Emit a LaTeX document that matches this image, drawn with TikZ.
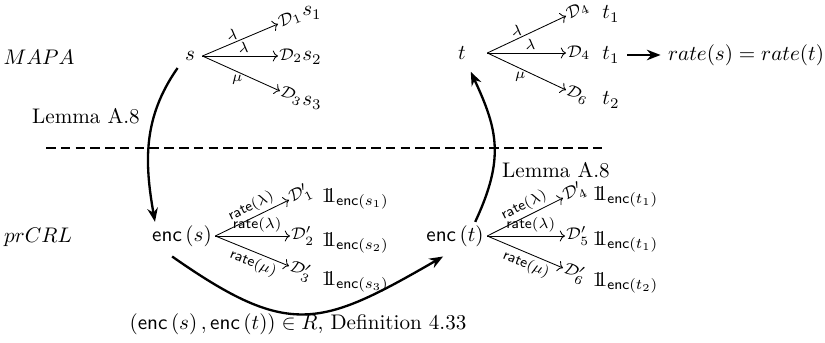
\documentclass[tikz,border=0pt]{standalone}
\usepackage{amsmath,amssymb}
\usetikzlibrary{arrows.meta}

\newcommand{\encf}{\mathsf{enc}}
\newcommand{\ratef}{\mathsf{rate}}
\newcommand{\indf}{\mathrm{1\kern-0.3em1}}

\tikzset{
  lbl/.style={font=\scriptsize, inner sep=1.5pt},
  dist/.style={font=\footnotesize, inner sep=0.5pt, anchor=west},
  ind/.style={anchor=west, inner sep=1pt},
  trans/.style={->, line width=0.4pt},
  link/.style={-{Stealth[length=6.5pt,width=5pt]}, line width=1.1pt},
  sep/.style={dash pattern=on 4.5pt off 2.5pt, line width=0.9pt},
}

\begin{document}
\begin{tikzpicture}[x=0.01664cm, y=0.01664cm]
\useasboundingbox (0,0) rectangle (825,-343);

% MAPA level
\node (mapa) at (39,-57) {$MAPA$};
\node (s) at (190,-56) {$s$};
\node[dist, rotate=22] (d1) at (278,-24) {$\mathcal{D}_1$};
\node[dist] (d2) at (278,-56) {$\mathcal{D}_2$};
\node[dist, rotate=-24] (d3) at (280,-91) {$\mathcal{D}_3$};
\node (s1) at (312,-13) {$s_1$};
\node (s2) at (312,-58) {$s_2$};
\node (s3) at (312,-103) {$s_3$};
\draw[trans] (s.east) -- node[lbl, above, pos=0.4] {$\lambda$} (d1.west);
\draw[trans] (s.east) -- node[lbl, above, pos=0.55] {$\lambda$} (d2.west);
\draw[trans] (s.east) -- node[lbl, below, pos=0.45] {$\mu$} (d3.west);

\node[minimum width=23.6pt] (t) at (462,-53) {$t$};
\node[dist, rotate=25] (d4a) at (566,-16) {$\mathcal{D}_4$};
\node[dist] (d4b) at (566,-53) {$\mathcal{D}_4$};
\node[dist, rotate=-25] (d6) at (566,-90) {$\mathcal{D}_6$};
\node (t1a) at (611,-14) {$t_1$};
\node (t1b) at (611,-55) {$t_1$};
\node (t2) at (611,-100) {$t_2$};
\draw[trans] (t.east) -- node[lbl, above, pos=0.38] {$\lambda$} (d4a.west);
\draw[trans] (t.east) -- node[lbl, above, pos=0.55] {$\lambda$} (d4b.west);
\draw[trans] (t.east) -- node[lbl, below, pos=0.42] {$\mu$} (d6.west);

\node (rate) at (746,-55) {$rate(s) = rate(t)$};
\draw[link] (t1b.east) -- (rate.west);

% separation
\node (lemL) at (86,-116) {Lemma A.8};
\node (lemR) at (556,-170) {Lemma A.8};
\coordinate (sepL) at (46,-148);
\coordinate (sepR) at (606,-148);
\draw[sep] (sepL) -- (sepR);

% prCRL level
\node (prcrl) at (38,-237) {$prCRL$};
\node[inner sep=1.5pt] (encs) at (182,-236) {$\encf\left(s\right)$};
\node[dist, rotate=26] (e1) at (289,-200) {$\mathcal{D}'_1$};
\node[dist] (e2) at (290,-236) {$\mathcal{D}'_2$};
\node[dist, rotate=-23] (e3) at (289,-266) {$\mathcal{D}'_3$};
\node[ind] (i1) at (319,-199) {$\indf_{\encf\left(s_1\right)}$};
\node[ind] (i2) at (319,-243) {$\indf_{\encf\left(s_2\right)}$};
\node[ind] (i3) at (319,-282) {$\indf_{\encf\left(s_3\right)}$};
\draw[trans] (encs.east) -- node[lbl, sloped, above, pos=0.55] {$\ratef(\lambda)$} (e1.west);
\draw[trans] (encs.east) -- node[lbl, above, pos=0.56] {$\ratef(\lambda)$} (e2.west);
\draw[trans] (encs.east) -- node[lbl, sloped, below, pos=0.57] {$\ratef(\mu)$} (e3.west);

\node[inner sep=1.5pt] (enct) at (455,-236) {$\encf\left(t\right)$};
\node[dist, rotate=26] (e4) at (563,-198) {$\mathcal{D}'_4$};
\node[dist] (e5) at (565,-236) {$\mathcal{D}'_5$};
\node[dist, rotate=-24] (e6) at (563,-268) {$\mathcal{D}'_6$};
\node[ind] (i4) at (590,-197) {$\indf_{\encf\left(t_1\right)}$};
\node[ind] (i5) at (590,-242) {$\indf_{\encf\left(t_1\right)}$};
\node[ind] (i6) at (590,-283) {$\indf_{\encf\left(t_2\right)}$};
\draw[trans] (enct.east) -- node[lbl, sloped, above, pos=0.55] {$\ratef(\lambda)$} (e4.west);
\draw[trans] (enct.east) -- node[lbl, above, pos=0.56] {$\ratef(\lambda)$} (e5.west);
\draw[trans] (enct.east) -- node[lbl, sloped, below, pos=0.57] {$\ratef(\mu)$} (e6.west);

\node (defn) at (298,-324) {$(\encf\left(s\right), \encf\left(t\right)) \in R$, Definition 4.33};

% the three steps
\draw[link] (s.south west) to[out=235, in=100] ([xshift=3pt]encs.north west);
\draw[link, looseness=1.35] ([yshift=-3pt]encs.235) to[out=-35, in=210] ([yshift=-3pt]enct.230);
\draw[link, looseness=1.15, shorten >=2.5pt] (enct.35) to[out=65, in=-65] (t.-65);
\end{tikzpicture}
\end{document}
